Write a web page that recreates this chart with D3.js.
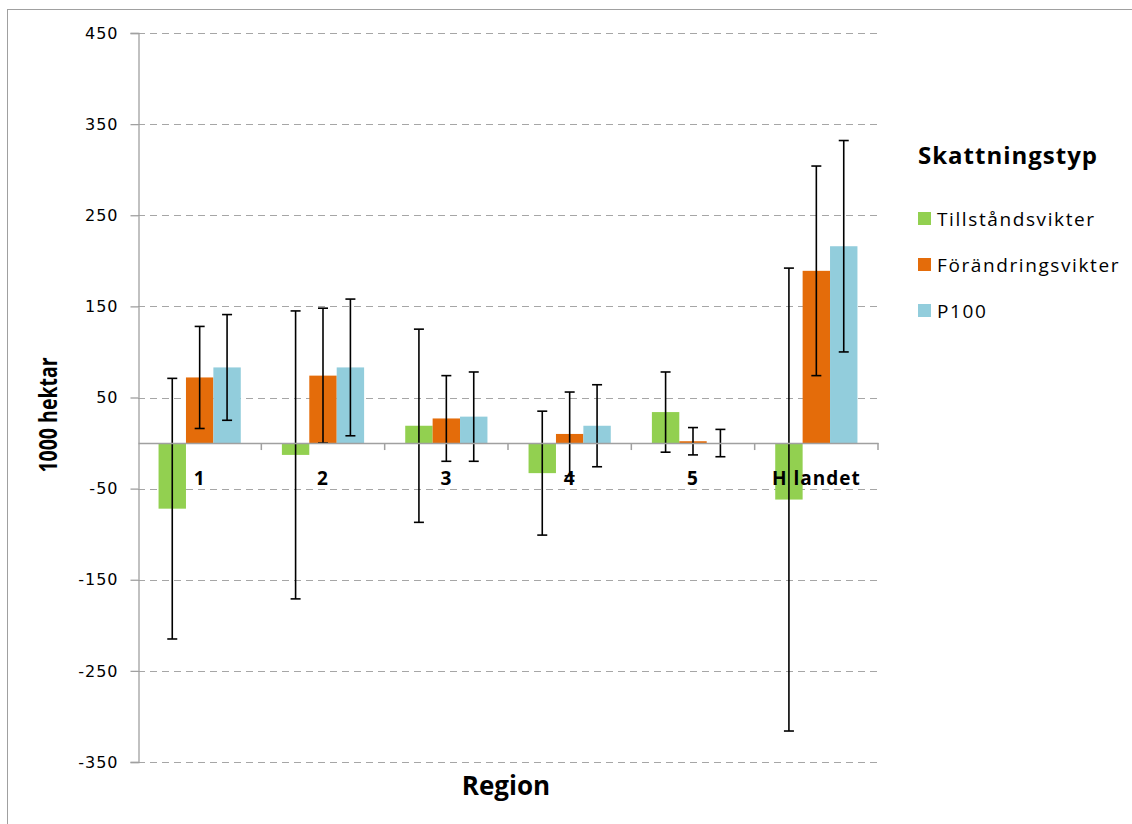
<!DOCTYPE html>
<html><head><meta charset="utf-8">
<script src="https://cdn.jsdelivr.net/npm/d3@7"></script>
<style>body{margin:0;background:#fff;}svg{display:block;}</style>
</head><body>
<svg id="c" width="1132" height="824"></svg>
<script>
const categories = ["1","2","3","4","5","H landet"];
const seriesNames = ["Tillståndsvikter","Förändringsvikter","P100"];
const tillstand = [-72, -13, 19, -33, 34, -62];
const tillstandErr = [143, 158, 106, 68, 44, 254];
const forandring = [72, 74, 27, 10, 2, 189];
const forandringErr = [56, 74, 47, 46, 15, 115];
const p100 = [83, 83, 29, 19, 0, 216];
const p100Err = [58, 75, 49, 45, 15, 116];
const yTicks = [-350,-250,-150,-50,50,150,250,350,450];
const colors = ["#92D050","#E46C0A","#92CDDC"];

const values = [tillstand, forandring, p100];
const errs = [tillstandErr, forandringErr, p100Err];

const svg = d3.select("#c");
const L = 138, R = 878, T = 33, B = 762;

// outer frame
svg.append("rect").attr("x",7.5).attr("y",9.5).attr("width",1200).attr("height",900)
  .attr("fill","none").attr("stroke","#a0a0a0").attr("stroke-width",1);

const y = d3.scaleLinear().domain([-350,450]).range([B,T]);
const x0 = d3.scaleBand().domain(categories).range([L,R]).paddingInner(0).paddingOuter(0);
const bw = x0.bandwidth()/ (3 + 1.5);
const x1 = d3.scaleBand().domain([0,1,2]).range([0, bw*3]);

// gridlines
svg.append("g").selectAll("line").data(yTicks).join("line")
  .attr("x1",L).attr("x2",R).attr("y1",d=>Math.round(y(d))+0.5).attr("y2",d=>Math.round(y(d))+0.5)
  .attr("stroke","#a6a6a6").attr("stroke-width",1.2).attr("stroke-dasharray","7,5");

// y axis
const yAxis = d3.axisLeft(y).tickValues(yTicks).tickSize(8).tickPadding(12).tickFormat(d=>String(d));
const gy = svg.append("g").attr("transform",`translate(${L+0.5},0)`).call(yAxis);
gy.attr("font-size",16).attr("font-family","DejaVu Sans");
gy.select(".domain").attr("stroke","#a0a0a0").attr("stroke-width",1.3);
gy.selectAll(".tick line").attr("stroke","#a0a0a0").attr("stroke-width",1.3);
gy.selectAll(".tick text").attr("font-family","DejaVu Sans").attr("font-size",16).attr("fill","#000")
  .attr("letter-spacing","1px");

// bars
const groups = svg.append("g").selectAll("g").data(categories).join("g")
  .attr("transform",d=>`translate(${x0(d)+bw*0.75},0)`);
groups.each(function(cat,i){
  const g = d3.select(this);
  for(let s=0;s<3;s++){
    const v = values[s][i];
    g.append("rect").attr("x",x1(s)).attr("width",x1.bandwidth())
      .attr("y",y(Math.max(0,v))).attr("height",Math.abs(y(v)-y(0)))
      .attr("fill",colors[s]);
  }
});

// x axis line at zero
const xAxis = d3.axisBottom(x0).tickSize(0).tickFormat("");
const gx = svg.append("g").attr("transform",`translate(0,${y(0)})`).call(xAxis);
gx.select(".domain").attr("stroke","#a0a0a0").attr("stroke-width",1.5);
svg.append("g").selectAll("line").data(categories.slice(1).concat(["end"])).join("line")
  .attr("x1",(d,i)=>L+x0.bandwidth()*(i+1)).attr("x2",(d,i)=>L+x0.bandwidth()*(i+1))
  .attr("y1",y(0)).attr("y2",y(0)+7).attr("stroke","#a0a0a0").attr("stroke-width",1.5);

// category labels
svg.append("g").selectAll("text").data(categories).join("text")
  .attr("x",d=>x0(d)+x0.bandwidth()/2)
  .attr("y",y(0)+42).attr("text-anchor","middle")
  .attr("font-family","Open Sans").attr("font-weight","bold").attr("font-size",19)
  .attr("letter-spacing","1px")
  .attr("fill","#000").text(d=>d);

// error bars
groups.each(function(cat,i){
  const g = d3.select(this);
  for(let s=0;s<3;s++){
    const v = values[s][i], e = errs[s][i];
    const cx = x1(s)+x1.bandwidth()/2;
    g.append("line").attr("x1",cx).attr("x2",cx).attr("y1",y(v+e)).attr("y2",y(v-e))
      .attr("stroke","#000").attr("stroke-width",1.6);
    [v+e, v-e].forEach(w=>{
      g.append("line").attr("x1",cx-5).attr("x2",cx+5).attr("y1",y(w)).attr("y2",y(w))
        .attr("stroke","#000").attr("stroke-width",1.6);
    });
  }
});

// axis titles
svg.append("text").attr("transform",`translate(57,415) rotate(-90) scale(0.78,1)`).attr("text-anchor","middle")
  .attr("font-family","Open Sans").attr("font-weight","bold").attr("font-size",25)
  .attr("fill","#000").text("1000 hektar");
svg.append("text").attr("x",506).attr("y",795).attr("text-anchor","middle")
  .attr("font-family","Open Sans").attr("font-weight","bold").attr("font-size",26)
  .attr("fill","#000").text("Region");

// legend
svg.append("text").attr("x",918).attr("y",164).attr("font-family","Open Sans").attr("font-weight","bold")
  .attr("font-size",24).attr("letter-spacing","1px").attr("fill","#000").text("Skattningstyp");
const lg = svg.append("g").selectAll("g").data(seriesNames).join("g")
  .attr("transform",(d,i)=>`translate(918,${212+i*46})`);
lg.append("rect").attr("width",13).attr("height",13).attr("fill",(d,i)=>colors[i]);
lg.append("text").attr("x",19).attr("y",14).attr("font-family","Open Sans").attr("font-size",19)
  .attr("letter-spacing","1.6px")
  .attr("fill","#000").text(d=>d);
</script>
</body></html>
